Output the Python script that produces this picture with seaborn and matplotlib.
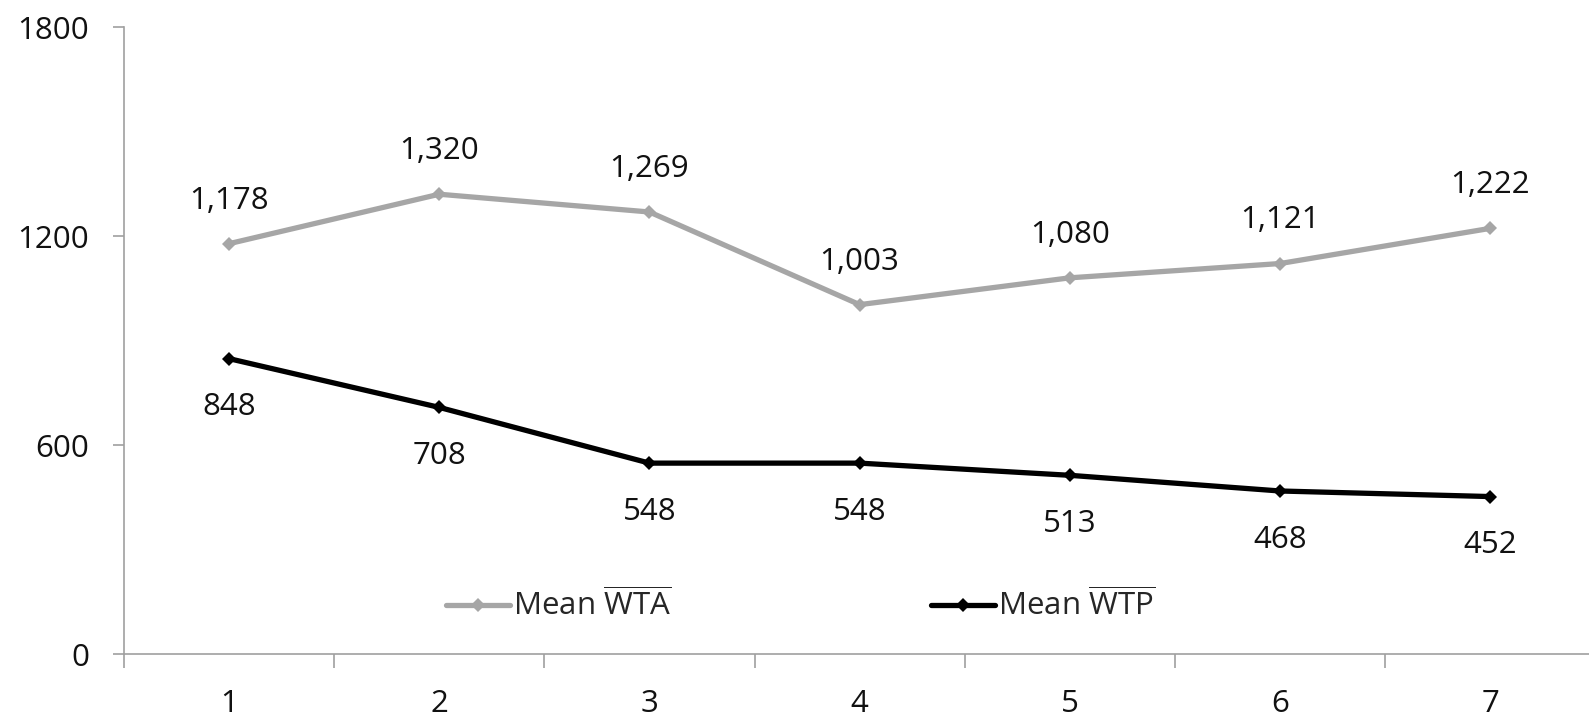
import matplotlib
matplotlib.use("Agg")
import matplotlib.pyplot as plt
from matplotlib.ticker import FixedLocator, NullFormatter
import seaborn as sns
import pandas as pd

periods = [1, 2, 3, 4, 5, 6, 7]
wta_mean = [1178, 1320, 1269, 1003, 1080, 1121, 1222]
wtp_mean = [848, 708, 548, 548, 513, 468, 452]
y_ticks = [0, 600, 1200, 1800]

sns.set_theme(style="white")
plt.rcParams["font.family"] = ["Open Sans", "DejaVu Sans"]
plt.rcParams["mathtext.fontset"] = "custom"
plt.rcParams["mathtext.rm"] = "Open Sans"
plt.rcParams["mathtext.it"] = "Open Sans"

FS = 22.5
WTA = "Mean $\\overline{\\mathrm{WTA}}$"
WTP = "Mean $\\overline{\\mathrm{WTP}}$"

df = pd.DataFrame({
    "period": periods * 2,
    "value": wta_mean + wtp_mean,
    "series": [WTA] * 7 + [WTP] * 7,
})

fig = plt.figure(figsize=(15.89, 7.19), dpi=100)
ax = fig.add_axes([0.078, 0.0904, 0.922, 0.872])

palette = {WTA: "#A6A6A6", WTP: "#000000"}
sns.lineplot(data=df, x="period", y="value", hue="series", palette=palette,
             marker="D", markersize=7, markeredgewidth=0, linewidth=3.8,
             ax=ax, legend=True)

for x, v in zip(periods, wta_mean):
    ax.annotate(f"{v:,}", (x, v), xytext=(0, 31), textcoords="offset points",
                ha="center", va="center", fontsize=FS, color="#111111")
for x, v in zip(periods, wtp_mean):
    ax.annotate(f"{v:,}", (x, v), xytext=(0, -35), textcoords="offset points",
                ha="center", va="center", fontsize=FS, color="#111111")

ax.set_xlim(0.5, 7.47)
ax.set_ylim(0, 1800)
ax.set_yticks(y_ticks)
ax.set_yticklabels([str(t) for t in y_ticks])
ax.xaxis.set_major_locator(FixedLocator([i + 0.5 for i in range(0, 8)]))
ax.xaxis.set_major_formatter(NullFormatter())
ax.set_xticks(periods, minor=True)
ax.set_xticklabels([str(p) for p in periods], minor=True)
ax.tick_params(axis="x", which="major", direction="out", length=10, width=1.2,
               color="#A0A0A0", bottom=True)
ax.tick_params(axis="x", which="minor", length=0, pad=25, labelsize=FS,
               labelcolor="#111111")
ax.tick_params(axis="y", direction="out", length=8, width=1.2, color="#A0A0A0",
               left=True, pad=17, labelsize=FS, labelcolor="#111111")
ax.set_xlabel("")
ax.set_ylabel("")

for side in ("top", "right"):
    ax.spines[side].set_visible(False)
for side in ("left", "bottom"):
    ax.spines[side].set_color("#A0A0A0")
    ax.spines[side].set_linewidth(1.2)

handles, labels = ax.get_legend_handles_labels()
ax.legend(handles, labels, loc="center", bbox_to_anchor=(0.462, 0.077),
          ncol=2, frameon=False, fontsize=FS, columnspacing=8.3,
          handlelength=2.05, handletextpad=0.1)

fig.savefig("out.png", dpi=100)
